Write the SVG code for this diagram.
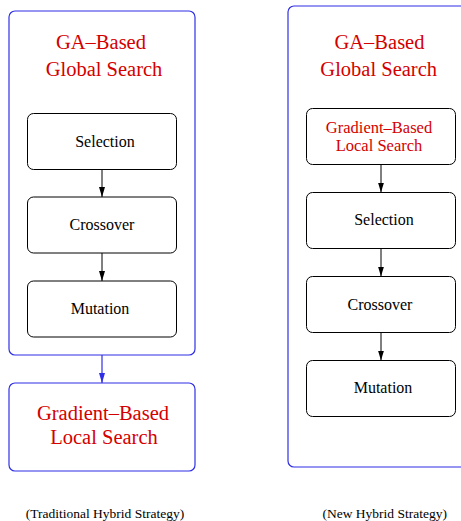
<svg xmlns="http://www.w3.org/2000/svg" width="461" height="521" viewBox="0 0 461 521">
<style>
.outer{fill:none;stroke:#2f2fe6;stroke-width:1.2}
.box{fill:#fff;stroke:#000;stroke-width:1}
.t{font-family:"Liberation Serif","Times New Roman",serif;text-anchor:middle}
.red{fill:#d40000}
.big{font-size:20.5px}
.mid{font-size:16.5px}
.norm{font-size:16px;fill:#000}
.cap{font-size:13.5px;fill:#000}
.c{stroke:#000;stroke-width:1;fill:none}
.cb{stroke:#2f2fe6;stroke-width:1.2;fill:none}
</style>
<defs>
<marker id="ahb" markerWidth="6" markerHeight="10" refX="3" refY="10" markerUnits="userSpaceOnUse" viewBox="0 0 6 10">
<path d="M0,0 L6,0 L3,10 Z" fill="#2f2fe6"/>
</marker>
<marker id="ahk" markerWidth="6" markerHeight="10" refX="3" refY="10" markerUnits="userSpaceOnUse" viewBox="0 0 6 10">
<path d="M0,0 L6,0 L3,10 Z" fill="#000"/>
</marker>
</defs>

<g id="left-ga">
<rect class="outer" x="9" y="11" width="186" height="344" rx="6"/>
<text class="t red big" x="101" y="49">GA–Based</text>
<text class="t red big" x="104" y="76">Global Search</text>
</g>
<g id="left-selection">
<rect class="box" x="27.5" y="113.5" width="149" height="56" rx="6"/>
<text class="t norm" x="105" y="146.5">Selection</text>
</g>
<g id="left-crossover">
<rect class="box" x="27.5" y="197" width="149" height="56" rx="6"/>
<text class="t norm" x="102" y="230">Crossover</text>
</g>
<g id="left-mutation">
<rect class="box" x="27.5" y="281" width="149" height="56" rx="6"/>
<text class="t norm" x="100" y="314">Mutation</text>
</g>
<g id="left-gradient">
<rect class="outer" x="9" y="383" width="186" height="88" rx="6"/>
<text class="t red big" x="103" y="420">Gradient–Based</text>
<text class="t red big" x="104" y="443.5">Local Search</text>
</g>

<g id="right-ga">
<rect class="outer" x="288" y="6" width="190" height="461" rx="6"/>
<text class="t red big" x="379.5" y="49">GA–Based</text>
<text class="t red big" x="378.7" y="76">Global Search</text>
</g>
<g id="right-gradient">
<rect class="box" x="306.5" y="108.5" width="149" height="56" rx="6"/>
<text class="t red mid" x="379" y="132.5">Gradient–Based</text>
<text class="t red mid" x="379" y="150.7">Local Search</text>
</g>
<g id="right-selection">
<rect class="box" x="306.5" y="192.5" width="149" height="56" rx="6"/>
<text class="t norm" x="384" y="225">Selection</text>
</g>
<g id="right-crossover">
<rect class="box" x="306.5" y="276.5" width="149" height="56" rx="6"/>
<text class="t norm" x="380" y="309.5">Crossover</text>
</g>
<g id="right-mutation">
<rect class="box" x="306.5" y="360.5" width="149" height="56" rx="6"/>
<text class="t norm" x="383" y="393">Mutation</text>
</g>

<g id="connectors">
<line class="c" x1="102" y1="169.5" x2="102" y2="197" marker-end="url(#ahk)"/>
<line class="c" x1="102" y1="253" x2="102" y2="281" marker-end="url(#ahk)"/>
<line class="cb" x1="102" y1="355" x2="102" y2="383" marker-end="url(#ahb)"/>
<line class="c" x1="381" y1="164.5" x2="381" y2="192.5" marker-end="url(#ahk)"/>
<line class="c" x1="381" y1="248.5" x2="381" y2="276.5" marker-end="url(#ahk)"/>
<line class="c" x1="381" y1="332.5" x2="381" y2="360.5" marker-end="url(#ahk)"/>
</g>

<g id="captions">
<text class="t cap" x="105" y="517.5">(Traditional Hybrid Strategy)</text>
<text class="t cap" x="384.7" y="517.5">(New Hybrid Strategy)</text>
</g>
</svg>
